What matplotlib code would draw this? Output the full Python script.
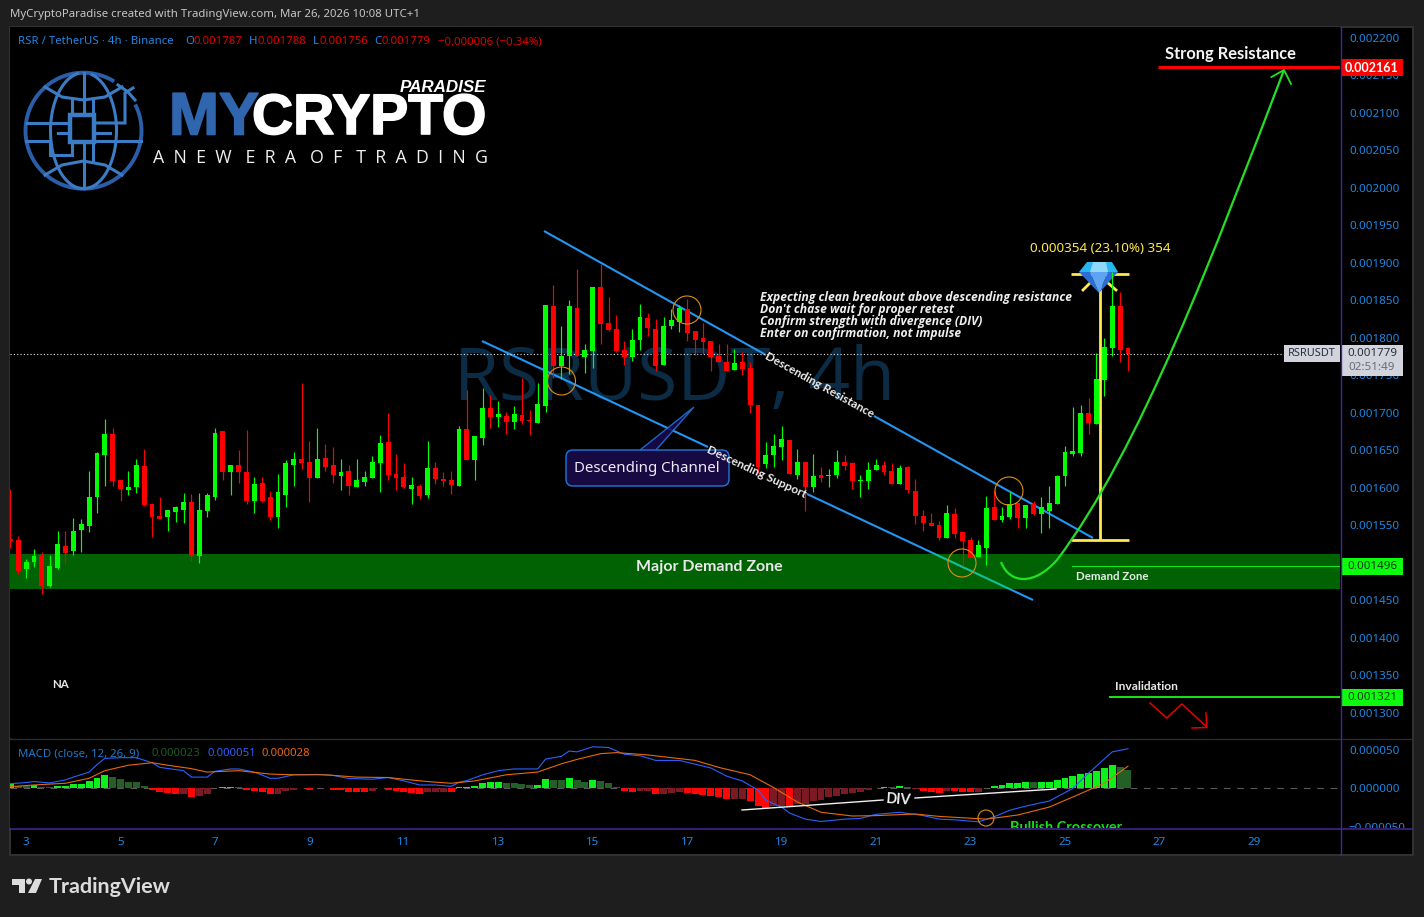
import numpy as np
import matplotlib
matplotlib.use("Agg")
import matplotlib.pyplot as plt
import matplotlib.patheffects as pe
from matplotlib.patches import Rectangle, Circle, FancyBboxPatch, Polygon, PathPatch
from matplotlib.path import Path
from matplotlib.transforms import Bbox, TransformedBbox

# ---------- data (micro-USDT) ----------
candle_open = [1532,1531,1492,1501,1510,1469,1493,1523,1516,1544,
 1549,1588,1644,1672,1611,1597,1601,1629,1579,1563,
 1561,1568,1571,1581,1509,1569,1588,1676,1621,1631,
 1621,1583,1607,1588,1561,1591,1631,1639,1635,1613,
 1640,1631,1616,1623,1601,1608,1613,1633,1661,1619,
 1615,1599,1603,1591,1627,1612,1611,1603,1679,1637,
 1667,1707,1695,1696,1688,1697,1691,1687,1709,1843,
 1763,1776,1840,1775,1783,1868,1820,1812,1784,1775,
 1797,1827,1812,1764,1816,1821,1839,1809,1800,1796,
 1776,1768,1757,1768,1760,1711,1632,1644,1655,1664,
 1617,1635,1601,1617,1616,1617,1635,1633,1609,1609,
 1624,1631,1623,1605,1628,1596,1563,1553,1551,1533,
 1565,1541,1531,1508,1520,1575,1557,1561,1580,1560,
 1579,1565,1569,1579,1616,1645,1647,1700,1685,1744,
 1787,1843,1787]
candle_close = [1529,1489,1501,1509,1469,1496,1525,1513,1543,1552,
 1588,1647,1672,1609,1599,1601,1631,1577,1561,1559,
 1571,1575,1581,1509,1571,1591,1673,1621,1631,1621,
 1583,1605,1583,1561,1595,1633,1639,1633,1613,1639,
 1628,1617,1621,1603,1611,1615,1635,1660,1617,1613,
 1601,1604,1589,1627,1612,1609,1604,1679,1637,1669,
 1707,1695,1699,1688,1699,1689,1689,1712,1844,1763,
 1776,1843,1776,1784,1868,1819,1811,1783,1775,1797,
 1828,1813,1763,1816,1824,1840,1807,1797,1795,1775,
 1768,1756,1767,1759,1711,1628,1644,1656,1665,1619,
 1635,1601,1616,1613,1617,1635,1629,1609,1611,1624,
 1631,1621,1605,1627,1597,1563,1553,1549,1533,1567,
 1539,1529,1507,1524,1573,1557,1563,1579,1560,1577,
 1565,1575,1580,1616,1648,1649,1700,1687,1745,1788,
 1843,1784,1779]
candle_high = [1598,1536,1505,1518,1515,1511,1542,1542,1560,1559,
 1623,1648,1692,1680,1611,1623,1639,1652,1580,1588,
 1571,1576,1593,1592,1593,1593,1680,1676,1631,1651,
 1677,1615,1615,1596,1619,1637,1648,1740,1663,1680,
 1659,1655,1639,1631,1639,1623,1643,1671,1700,1645,
 1633,1615,1605,1663,1635,1621,1623,1683,1731,1669,
 1733,1724,1716,1701,1709,1747,1704,1740,1844,1871,
 1816,1851,1892,1792,1868,1899,1855,1831,1796,1812,
 1845,1833,1825,1828,1839,1844,1852,1809,1820,1796,
 1792,1792,1785,1781,1768,1711,1661,1672,1683,1664,
 1652,1635,1645,1628,1625,1651,1644,1635,1617,1635,
 1639,1636,1633,1631,1629,1612,1571,1567,1556,1577,
 1573,1541,1535,1531,1589,1597,1575,1595,1580,1577,
 1583,1588,1603,1617,1656,1708,1711,1720,1780,1800,
 1888,1861,1788]
candle_low = [1520,1486,1480,1495,1459,1468,1492,1500,1511,1515,
 1541,1567,1603,1603,1583,1591,1593,1576,1535,1559,
 1543,1555,1553,1503,1500,1561,1584,1611,1591,1607,
 1579,1567,1581,1557,1547,1575,1603,1625,1581,1613,
 1623,1607,1597,1591,1601,1603,1613,1595,1611,1597,
 1600,1579,1585,1587,1605,1603,1592,1603,1637,1611,
 1657,1680,1681,1672,1679,1685,1671,1687,1701,1747,
 1745,1752,1776,1753,1760,1792,1809,1781,1764,1769,
 1784,1803,1756,1764,1812,1808,1796,1777,1779,1756,
 1768,1756,1757,1751,1700,1620,1627,1628,1637,1619,
 1612,1569,1595,1608,1601,1613,1624,1599,1588,1599,
 1624,1617,1605,1605,1593,1552,1543,1549,1531,1533,
 1533,1496,1507,1508,1497,1557,1555,1559,1547,1547,
 1564,1540,1547,1579,1603,1643,1643,1672,1685,1723,
 1776,1768,1756]

macd_hist = [6.1,3,3,4.4,1.8,1.8,3,3,5.3,5.7,
 9.6,13.6,17.5,14.9,12.3,8.3,8.3,3,-2.2,-4.8,
 -6.1,-7.5,-7.5,-11.4,-10.1,-7.5,0.4,1.8,1.8,1.8,
 -2.2,-3.5,-4.8,-7.5,-7.5,-3.5,-2.2,0.4,-2.2,0.4,
 0.4,-2.2,-2.2,-4.8,-4.8,-4.8,-3.5,0.4,-2.2,-3.5,
 -4.8,-6.1,-7.5,-4.8,-4.8,-4.8,-4.8,1.8,1.8,3,
 7,8.3,8.3,7,7,5.3,4.4,4.4,12.3,11,
 11,13.6,11,8.3,11,9.6,7,1.8,-3.5,-4.8,
 -3.5,-3.5,-7.5,-7.5,-6.1,-4.8,-6.1,-7.5,-8.8,-10,
 -11.4,-14,-14,-14,-16.7,-22,-24.6,-23.2,-22,-22.5,
 -20.6,-20,-16.7,-15.4,-11.4,-10,-7.5,-6.1,-4.8,-2.2,
 0.4,1.8,1.3,3,1.8,-0.4,-3.5,-4.8,-6.1,-3.5,
 -3.5,-4.8,-4.8,-4.8,0.4,3,4.4,7,7,8.3,
 8.3,8.3,8.3,11,13.6,16.2,18.9,20,22.8,26.8,
 30.7,28,24]
macd_hist_shade = ("bddbddbbbb" "bbbdddddbb" "bbdbddbbbd" "bbbbdddbbd" "dbbbbbdbbb"
                   "bbbdddbbbb" "bbbddddbbd" "dbddbdddbb" "ddbdddbbbb" "bbddbbbddb"
                   "dddddddddd" "bbdbddbbbd" "bbbdbbbbbb" "dbbbbbbbbb" "bdd")

macd_idx = [0,2,3,5,7,8,10,11,12,14,16,18,19,22,23,25,26,28,29,31,33,34,36,39,41,43,46,48,50,52,54,56,
            57,58,60,62,64,67,68,70,71,72,74,76,78,80,82,85,89,91,93,95,96,98,99,101,103,106,108,110,113,
            116,118,120,123,125,127,129,132,135,137,140,142]
macd_line = [6.1,7.5,8.8,7,11,14.5,21,30.7,38.6,39.5,39.5,33,27,22.8,14.5,14.5,22,25,25,21,13,13,17.5,18,16.7,12.7,11.8,14,9.6,4.4,4.4,2.6,
             7.9,10,17.5,22.8,25,25,37.7,41.2,48,47,53.5,52.6,43.9,42,36,36,26.3,15.8,9.6,-2.2,-15.4,-24,-31.6,-39.5,-42.5,-39.5,-38.6,-33.3,-30.7,
             -35,-39.5,-40.4,-43,-36.4,-28,-22.8,-16.2,0,19.7,46.9,51]
signal_idx = [0,3,7,10,12,15,18,20,23,25,29,33,36,40,44,48,50,53,56,59,63,67,70,72,75,77,81,84,87,90,94,97,100,103,107,110,115,118,124,128,132,135,139,142]
signal_line = [2.2,4.4,6.6,13,22.8,29.8,33,29.8,25.4,21,22.8,18.4,17.5,17.5,14.5,14,11.8,8.8,6.6,9.6,17.5,21,31.6,37.3,44.7,46,43,39.5,36,27,17.5,0.9,-17.5,-30.7,-35.5,-35,-32.9,-36,-39.5,-34.2,-24,-11,6.6,28.5]

price_ticks = [2200,2150,2100,2050,2000,1950,1900,1850,1800,1750,1700,1650,1600,1550,1500,1450,1400,1350,1300]
macd_ticks = [50,0,-50]
day_labels = [3,5,7,9,11,13,15,17,19,21,23,25,27,29]
day_candle = [2,14,26,38,50,62,74,86,98,110,122,134,146,158]

demand_zone = (1465.3, 1512)

# ---------- style ----------
F = "Noto Sans"
BF = "Lato"
BG = "#1e1e1e"
UP = "#00ff00"; DN = "#ff0000"
BLUE = "#1e88e5"
TL = "#2196f3"
YEL = "#ffe94d"
PUR = "#43289a"
W, H = 1424, 917
PPI = 0.72   # pt per px at dpi 100

fig = plt.figure(figsize=(W/100, H/100), dpi=100, facecolor=BG)
def rect(x0, y0, x1, y1):
    return [x0/W, 1-y1/H, (x1-x0)/W, (y1-y0)/H]

bg = fig.add_axes(rect(10, 27, 1413, 855), zorder=0, facecolor="black")
bg.set_xticks([]); bg.set_yticks([])
for s in bg.spines.values():
    s.set_color("#303030"); s.set_linewidth(1.5)

# main price pane
PX_X0, PX_DX = 10.4, 7.87
ax = fig.add_axes(rect(10, 27, 1340, 738), zorder=1, facecolor="black")
ax.set_xlim((10-PX_X0)/PX_DX, (1340-PX_X0)/PX_DX)
ax.set_ylim((1800-(738-338)/0.75)/1e6, (1800+(338-27)/0.75)/1e6)
ax.autoscale(False)
# overlay in pixels
ov = fig.add_axes([0, 0, 1, 1], zorder=5)
ov.set_xlim(0, W); ov.set_ylim(H, 0); ov.axis("off"); ov.patch.set_visible(False)
px = ov.transData

def T(x, y, s, size, color="white", ha="left", va="center", weight="normal", rot=0, style="normal", family=None, **kw):
    if family is None:
        family = BF if weight == "bold" else F
    return ov.text(x, y, s, fontsize=size*PPI, color=color, ha=ha, va=va, fontweight=weight,
                   rotation=rot, rotation_mode="anchor", fontstyle=style, family=family, **kw)

for s in ax.spines.values():
    s.set_visible(False)
ax.set_xticks([])
ax.yaxis.tick_right()
ax.set_yticks(np.array(price_ticks)/1e6)
ax.set_yticklabels([f"{v/1e6:.6f}" for v in price_ticks], fontsize=11.6*PPI, color=BLUE, family=F)
ax.tick_params(axis="y", length=0, pad=6.4)

# watermark
ax.text(675, 381, "RSRUSDT, 4h", transform=px, fontsize=73*PPI, color="#0b2c44", ha="center", va="center",
        family="Open Sans", zorder=0.5)

# trend lines (under the zone tint)
for (x0, y0, x1, y1) in [(544, 231, 766, 355), (874, 416, 1093, 538), (482, 341, 708, 447), (807, 494, 1033, 600)]:
    ax.plot([x0, x1], [y0, y1], transform=px, color=TL, lw=1.5, solid_capstyle="butt", zorder=1)

# demand zone
ax.axhspan(demand_zone[0]/1e6, demand_zone[1]/1e6, facecolor="#00ff0a", alpha=0.39, lw=0, zorder=2)

# last price dotted line
ax.plot([10, 1285], [353.75, 353.75], transform=px, color="#e8e8e8", lw=0.8, ls=(0, (1, 2)), zorder=2.5)

# price range tool
for seg in [((1100, 274), (1100, 540)), ((1071, 274), (1129, 274)), ((1071, 540), (1129, 540))]:
    ax.plot(*zip(*seg), transform=px, color=YEL, lw=2, solid_capstyle="butt", zorder=3)

# diamond
ax.plot([1083, 1090], [290, 283], transform=px, color=YEL, lw=2, zorder=3.1)
ax.plot([1108, 1116], [283, 290], transform=px, color=YEL, lw=2, zorder=3.1)
gem = [([(1087, 262), (1112, 262), (1118, 272), (1079, 272)], "#27b6f0"),
       ([(1079, 272), (1090, 272), (1099, 293)], "#2a6fd6"),
       ([(1118, 272), (1108, 272), (1099, 293)], "#2a6fd6"),
       ([(1090, 272), (1108, 272), (1099, 293)], "#5ea4f2"),
       ([(1093, 262), (1106, 262), (1108, 272), (1090, 272)], "#8fd8f7")]
for pts, c in gem:
    ax.add_patch(Polygon(pts, closed=True, facecolor=c, edgecolor="none", transform=px, zorder=3.2))

# green curved arrow
curve = Path([(1001, 562), (1010, 585), (1035, 585), (1057, 560), (1140, 450), (1215, 250), (1284, 70)],
             [Path.MOVETO, Path.CURVE4, Path.CURVE4, Path.CURVE4, Path.CURVE4, Path.CURVE4, Path.CURVE4])
ax.add_patch(PathPatch(curve, facecolor="none", edgecolor="#24e024", lw=1.6, transform=px, zorder=3.4))
ax.plot([1271.5, 1284, 1291], [77, 70, 84], transform=px, color="#24e024", lw=1.3, zorder=3.4)

# candles
o = np.array(candle_open)/1e6; c = np.array(candle_close)/1e6
hi = np.array(candle_high)/1e6; lo = np.array(candle_low)/1e6
idx = np.arange(len(o))
cols = [UP if cc >= oo else DN for oo, cc in zip(o, c)]
ax.vlines(idx, lo, hi, colors=cols, lw=0.85, zorder=4)
ax.bar(idx, np.abs(c-o), bottom=np.minimum(o, c), width=0.62, color=cols, lw=0, zorder=4.1)

# horizontal levels
ax.plot([1158, 1340], [67.3, 67.3], transform=px, color="#ff0000", lw=2.2, solid_capstyle="butt", zorder=3)
ax.plot([1072, 1340], [566, 566], transform=px, color="#18e618", lw=0.8, zorder=3)
ax.plot([1110, 1340], [696.8, 696.8], transform=px, color="#18e618", lw=1.4, zorder=3)
ax.plot([1150, 1166.7, 1182, 1206.7], [703, 718, 704, 727], transform=px, color="#e80000", lw=1.1, zorder=3)
ax.plot([1206, 1206.7, 1192], [713, 727.5, 728], transform=px, color="#e80000", lw=1.1, zorder=3)

# MACD pane
m = fig.add_axes(rect(10, 739, 1340, 828), zorder=1, facecolor="black")
M_K = 0.778
m.set_xlim((10-PX_X0)/PX_DX, (1340-PX_X0)/PX_DX)
m.set_ylim((788.4-828)/M_K, (788.4-739)/M_K)
m.autoscale(False)
for s in m.spines.values():
    s.set_visible(False)
m.axhline(0, color="#5a5a5a", lw=0.8, ls=(0, (6, 6)), zorder=1)
hv = np.array(macd_hist)
hc = []
for v, sd in zip(hv, macd_hist_shade):
    if v >= 0:
        hc.append("#0cf01c" if sd == "b" else "#235f26")
    else:
        hc.append("#ff0606" if sd == "b" else "#7c1a24")
m.bar(np.arange(len(hv)), hv, width=0.88, color=hc, lw=0, zorder=2)
m.plot(macd_idx, macd_line, color="#2962ff", lw=0.8, zorder=3)
m.plot(signal_idx, signal_line, color="#e8690b", lw=0.8, zorder=3.1)
m.yaxis.tick_right()
m.set_yticks(macd_ticks)
m.set_yticklabels([f"{v/1e6:.6f}".replace("-", "\u2212") for v in macd_ticks], fontsize=11.6*PPI, color=BLUE, family=F)
m.tick_params(axis="y", length=0, pad=6.4)
m.set_xticks(day_candle)
m.set_xticklabels([str(d) for d in day_labels], fontsize=11.6*PPI, color=BLUE, family=F)
m.tick_params(axis="x", length=0, pad=6.5)
clip = TransformedBbox(Bbox([[0, 0], [W, 828]]), px)
for lb in m.get_yticklabels():
    lb.set_clip_box(clip); lb.set_clip_on(True)

# pane separators
ov.plot([10, 1413], [738.5, 738.5], color="#2c2c30", lw=1)
ov.plot([10, 1413], [828.5, 828.5], color=PUR, lw=1.1)
ov.plot([1340.5, 1340.5], [27, 855], color=PUR, lw=1)

# header
T(10, 15, "MyCryptoParadise created with TradingView.com, Mar 26, 2026 10:08 UTC+1", 11.4, "#c6c6c6")
T(18, 42, "RSR / TetherUS \u00b7 4h \u00b7 Binance", 11.4, BLUE)
for x, s, col in [(185, "O", BLUE), (193, "0.001787", "#e00000"), (249, "H", BLUE), (257, "0.001788", "#e00000"),
                  (313, "L", BLUE), (319, "0.001756", "#e00000"), (374, "C", BLUE), (381, "0.001779", "#e00000"),
                  (438, "\u22120.000006 (\u22120.34%)", "#e00000")]:
    T(x, 42, s, 11.4, col)
T(18, 754, "MACD (close, 12, 26, 9)", 11.4, "#1e78c8")
T(151, 754, "0.000023", 11.4, "#1d5c22")
T(207, 754, "0.000051", 11.4, "#2962ff")
T(262, 754, "0.000028", 11.4, "#e8690b")
T(52, 685, "NA", 11.5, "#e8e8e8", weight="bold")

# logo: globe
gc = (83.5, 130.7); R = 58
GL = "#3b7cc4"; GD = "#2b5ea8"
th = np.radians(np.linspace(-25, 300, 200))
ov.plot(gc[0]+R*np.cos(th), gc[1]+R*np.sin(th), color=GD, lw=2.8)
th2 = np.radians(np.linspace(-75, 260, 160))
ov.plot(gc[0]+33*np.cos(th2), gc[1]+R*np.sin(th2), color=GL, lw=2.2)
for seq in [[(83.5, 73), (83.5, 113)], [(83.5, 144), (83.5, 188)],
            [(45, 87), (62, 97), (83.5, 100), (105, 97), (122, 87)],
            [(45, 175), (62, 165), (83.5, 161), (105, 165), (122, 175)],
            [(27, 123), (68, 123)], [(26, 141), (50, 141), (50, 155), (72, 155), (72, 143)],
            [(95, 123), (125, 123), (125, 93), (133, 88)], [(95, 141), (141, 141)],
            [(95, 133), (110, 133)], [(58, 133), (68, 133)],
            [(72, 113), (72, 100)], [(93, 113), (93, 100)], [(93, 143), (93, 160)],
            [(118, 85), (128, 92), (135, 100)]]:
    ov.plot(*zip(*seq), color=GL, lw=2.2, solid_joinstyle="miter")
ov.add_patch(Rectangle((70, 115), 24, 27, facecolor="black", edgecolor=GL, lw=3.2))

# logo: words
stroke_w = [pe.withStroke(linewidth=1.2, foreground="white")]
stroke_b = [pe.withStroke(linewidth=1.2, foreground="#2f66ae")]
T(169, 119, "MY", 60, "#2f66ae", weight="bold", family="Liberation Sans", path_effects=stroke_b)
T(252, 119, "CRYPTO", 57, "white", weight="bold", family="Liberation Sans", path_effects=stroke_w)
T(400, 87, "PARADISE", 17, "white", weight="bold", style="italic", family="Liberation Sans")
T(153, 158, "A  N  E  W   E  R  A   O  F   T  R  A  D  I  N  G", 17.8, "#f0f0f0", family="Open Sans")

# notes & labels
for y, s in zip([298, 310, 322, 334], ["Expecting clean breakout above descending resistance",
                                       "Don't chase wait for proper retest",
                                       "Confirm strength with divergence (DIV)",
                                       "Enter on confirmation, not impulse"]):
    T(760, y, s, 12.1, "#eeeeee", style="italic", weight="bold", family="Open Sans")
T(819, 385, "Descending Resistance", 12, "#eeeeee", ha="center", weight="bold", rot=-29)
T(757, 472, "Descending Support", 12, "#eeeeee", ha="center", weight="bold", rot=-25)
T(709, 567.5, "Major Demand Zone", 16, "#e8e8e8", ha="center", weight="bold")
T(1230, 54.5, "Strong Resistance", 16.5, "#f4f4f4", ha="center", weight="bold")
T(1100, 249, "0.000354 (23.10%) 354", 13.4, YEL, ha="center")
T(1076, 576, "Demand Zone", 11.5, "#e8e8e8", weight="bold")
T(1115, 687, "Invalidation", 12, "#e8e8e8", weight="bold")

# callout
ov.add_patch(Polygon([(640, 450), (694, 407), (656, 450)], closed=False, facecolor="#1b0b50", edgecolor="#1e78e0", lw=1, alpha=0.85))
ov.add_patch(FancyBboxPatch((571, 455), 153, 26, boxstyle="round,pad=5,rounding_size=7", facecolor="#170a42", edgecolor="#1e78e0", lw=1))
T(647, 468, "Descending Channel", 15, "#ecebf5", ha="center")

# circles
for cx, cy, r in [(561.5, 381, 14), (687, 310, 14), (962, 563, 14), (1009, 491, 14), (986, 818, 8)]:
    ov.add_patch(Circle((cx, cy), r, facecolor="none", edgecolor="#e08e12", lw=0.8))

# MACD annotations
ov.plot([742, 883], [810, 800], color="#f0f0f0", lw=1)
ov.plot([915, 1056], [798, 789], color="#f0f0f0", lw=1)
T(899, 800, "DIV", 14.5, "#f0f0f0", ha="center", weight="bold", rot=-4)
t = T(1066, 828, "Bullish Crossover", 14.5, "#14e014", ha="center", weight="bold")
t.set_clip_box(clip); t.set_clip_on(True)

# price tags
def tag(x0, y0, x1, y1, c):
    ov.add_patch(Rectangle((x0, y0), x1-x0, y1-y0, facecolor=c, edgecolor="none"))
tag(1341, 59, 1403, 76, "#ff0000"); T(1372, 67.5, "0.002161", 12.5, "white", ha="center", weight="bold")
tag(1341, 558, 1403, 575, "#0dfb0d"); T(1372, 566.5, "0.001496", 11.6, "#0a3a0a", ha="center")
tag(1341, 689, 1403, 706, "#0dfb0d"); T(1372, 697.5, "0.001321", 11.6, "#0a3a0a", ha="center")
tag(1284, 345, 1340, 362, "#d1d4dc"); T(1312, 353.5, "RSRUSDT", 11, "#2a2e39", ha="center")
tag(1341, 345, 1403, 376, "#d1d4dc")
T(1372, 353.5, "0.001779", 11.6, "#2a2e39", ha="center")
T(1372, 368, "02:51:49", 11.6, "#6a6d78", ha="center")

# TradingView footer logo
FC = "#dcdcdc"
ov.add_patch(Polygon([(12, 879), (25, 879), (25, 893), (19, 893), (19, 885), (12, 885)], facecolor=FC, edgecolor="none"))
ov.add_patch(Circle((29, 881.5), 3, facecolor=FC, edgecolor="none"))
ov.add_patch(Polygon([(35, 879), (42, 879), (36, 893), (28, 893)], facecolor=FC, edgecolor="none"))
T(49, 887, "TradingView", 21.5, FC, family="Lato", weight="bold")

fig.savefig("out.png", dpi=100, facecolor=BG)
